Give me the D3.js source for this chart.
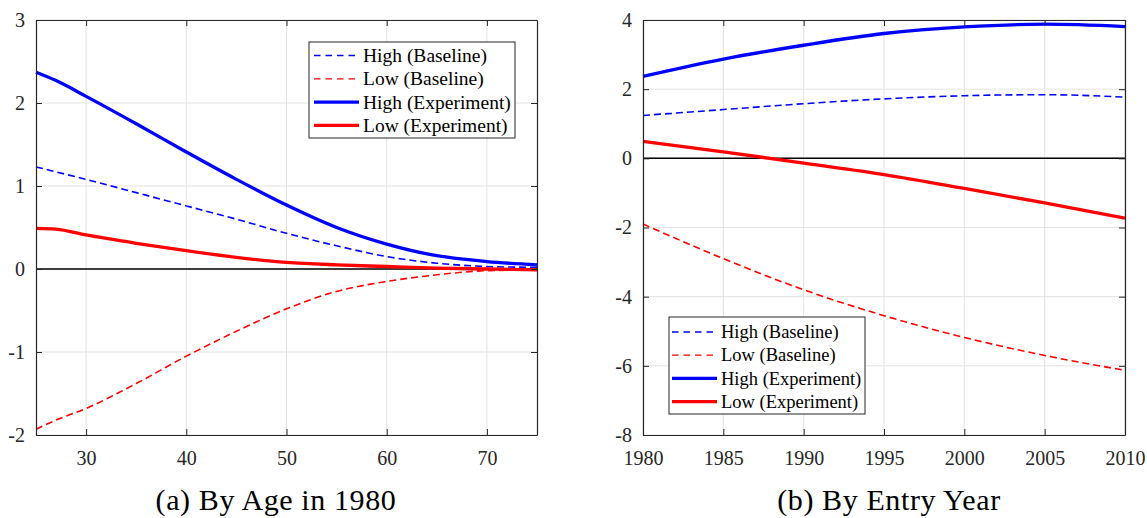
<!DOCTYPE html>
<html lang="en">
<head>
<meta charset="UTF-8">
<title>High / Low effects</title>
<script src="https://d3js.org/d3.v7.min.js"></script>
<style>
    body { margin: 0; background: #fff; }
</style>
</head>
<body>
<svg id="chart" width="1147" height="518"></svg>
<script>
    // ---- data: panel (a) by age in 1980
    const ages = [25, 27, 30, 35, 40, 45, 50, 55, 60, 65, 70, 75];
    const ageHighBase = [1.23, 1.17, 1.08, 0.92, 0.76, 0.6, 0.43, 0.28, 0.15, 0.07, 0.03, 0.02];
    const ageLowBase = [-1.93, -1.82, -1.68, -1.38, -1.05, -0.75, -0.48, -0.27, -0.15, -0.07, -0.02, -0.01];
    const ageHighExp = [2.37, 2.27, 2.08, 1.75, 1.41, 1.08, 0.77, 0.5, 0.3, 0.16, 0.09, 0.05];
    const ageLowExp = [0.49, 0.48, 0.41, 0.31, 0.22, 0.14, 0.08, 0.05, 0.03, 0.01, 0.0, -0.01];

    // ---- data: panel (b) by entry year
    const years = [1980, 1985, 1990, 1995, 2000, 2005, 2010];
    const yearHighBase = [1.24, 1.41, 1.58, 1.72, 1.81, 1.84, 1.77];
    const yearLowBase = [-1.9, -2.9, -3.8, -4.55, -5.18, -5.7, -6.13];
    const yearHighExp = [2.37, 2.87, 3.27, 3.61, 3.8, 3.88, 3.81];
    const yearLowExp = [0.49, 0.19, -0.14, -0.47, -0.87, -1.29, -1.73];

    const ageTicksX = [30, 40, 50, 60, 70];
    const ageTicksY = [-2, -1, 0, 1, 2, 3];
    const yearTicksX = [1980, 1985, 1990, 1995, 2000, 2005, 2010];
    const yearTicksY = [-8, -6, -4, -2, 0, 2, 4];

    const seriesNames = ["High (Baseline)", "Low (Baseline)", "High (Experiment)", "Low (Experiment)"];
    const seriesColors = ["#0000ff", "#ff0000", "#0000ff", "#ff0000"];
    const seriesDashed = [true, true, false, false];

    const FONT = '"Liberation Serif", "Times New Roman", serif';
    const svg = d3.select("#chart");

    function drawPanel(opt) {
        const x = d3.scaleLinear().domain(opt.xDomain).range([opt.left, opt.right]);
        const y = d3.scaleLinear().domain(opt.yDomain).range([opt.bottom, opt.top]);
        const g = svg.append("g");

        // grid
        g.selectAll(".gx").data(opt.xTicks).join("line")
            .attr("x1", d => x(d)).attr("x2", d => x(d))
            .attr("y1", opt.top).attr("y2", opt.bottom)
            .attr("stroke", "#e3e3e3").attr("stroke-width", 1);
        g.selectAll(".gy").data(opt.yTicks).join("line")
            .attr("y1", d => y(d)).attr("y2", d => y(d))
            .attr("x1", opt.left).attr("x2", opt.right)
            .attr("stroke", "#e3e3e3").attr("stroke-width", 1);

        // zero line
        g.append("line")
            .attr("x1", opt.left).attr("x2", opt.right)
            .attr("y1", y(0)).attr("y2", y(0))
            .attr("stroke", "#000").attr("stroke-width", 1.5);

        // series
        const line = d3.line()
            .x((d, i) => x(opt.xs[i]))
            .y(d => y(d))
            .curve(d3.curveMonotoneX);
        opt.series.forEach((s, i) => {
            g.append("path")
                .attr("d", line(s))
                .attr("fill", "none")
                .attr("stroke", seriesColors[i])
                .attr("stroke-width", seriesDashed[i] ? 1.6 : 3.3)
                .attr("stroke-dasharray", seriesDashed[i] ? "7,4" : null);
        });

        // axes (box with inward ticks)
        const tick = 6;
        const axB = d3.axisBottom(x).tickValues(opt.xTicks).tickSizeInner(-tick).tickSizeOuter(0).tickFormat(d3.format("d")).tickPadding(16);
        const axT = d3.axisTop(x).tickValues(opt.xTicks).tickSizeInner(-tick).tickSizeOuter(0).tickFormat("");
        const axL = d3.axisLeft(y).tickValues(opt.yTicks).tickSizeInner(-tick).tickSizeOuter(0).tickFormat(d3.format("d")).tickPadding(11);
        const axR = d3.axisRight(y).tickValues(opt.yTicks).tickSizeInner(-tick).tickSizeOuter(0).tickFormat("");

        [[axB, `translate(0,${opt.bottom})`], [axT, `translate(0,${opt.top})`],
         [axL, `translate(${opt.left},0)`], [axR, `translate(${opt.right},0)`]].forEach(([ax, tr]) => {
            const a = g.append("g").attr("transform", tr).call(ax)
                .attr("font-family", FONT);
            a.select(".domain").attr("stroke", "#262626").attr("stroke-width", 1.2);
            a.selectAll(".tick line").attr("stroke", "#262626");
            a.selectAll("text")
                .style("font-family", FONT)
                .attr("font-size", 20).attr("fill", "#262626")
                .text(function () { return this.textContent.replace("−", "-"); });
        });

        // legend
        const L = opt.legend;
        const lg = g.append("g").attr("transform", `translate(${L.x},${L.y})`);
        lg.append("rect")
            .attr("width", L.w).attr("height", L.h)
            .attr("fill", "#fff").attr("stroke", "#262626").attr("stroke-width", 1);
        seriesNames.forEach((name, i) => {
            const cy = L.row0 + i * L.rowGap;
            lg.append("line")
                .attr("x1", L.x1).attr("x2", L.x2).attr("y1", cy).attr("y2", cy)
                .attr("stroke", seriesColors[i])
                .attr("stroke-width", seriesDashed[i] ? 1.3 : 3.3)
                .attr("stroke-dasharray", seriesDashed[i] ? "6.5,5" : null);
            lg.append("text")
                .attr("x", L.x2 + 4).attr("y", cy + L.font * 0.33)
                .style("font-family", FONT)
                .attr("font-size", L.font).attr("fill", "#000")
                .text(name);
        });

        svg.append("text")
            .attr("x", opt.captionX).attr("y", 510)
            .attr("text-anchor", "middle")
            .style("font-family", FONT)
            .style("letter-spacing", "0.6px")
            .attr("font-size", 30).attr("fill", "#000")
            .text(opt.caption);
    }

    drawPanel({
        xs: ages, series: [ageHighBase, ageLowBase, ageHighExp, ageLowExp],
        xDomain: [25, 75], yDomain: [-2, 3],
        xTicks: ageTicksX, yTicks: ageTicksY,
        left: 36, right: 537, top: 20, bottom: 435,
        legend: { x: 309, y: 42, w: 206, h: 96, x1: 5, x2: 50, row0: 13.5, rowGap: 23.3, font: 19.5 },
        caption: "(a) By Age in 1980", captionX: 276
    });

    drawPanel({
        xs: years, series: [yearHighBase, yearLowBase, yearHighExp, yearLowExp],
        xDomain: [1980, 2010], yDomain: [-8, 4],
        xTicks: yearTicksX, yTicks: yearTicksY,
        left: 643, right: 1125, top: 20, bottom: 435,
        legend: { x: 669, y: 317, w: 196, h: 97, x1: 3, x2: 48, row0: 15, rowGap: 23.2, font: 18.5 },
        caption: "(b) By Entry Year", captionX: 889
    });
</script>
</body>
</html>
